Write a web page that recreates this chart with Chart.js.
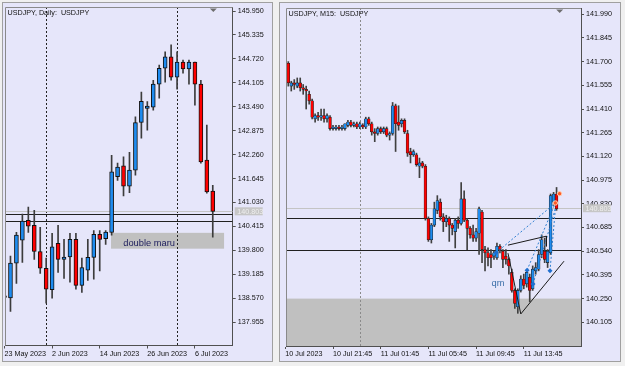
<!DOCTYPE html>
<html>
<head>
<meta charset="utf-8">
<script src="https://cdn.jsdelivr.net/npm/chart.js@4.4.0/dist/chart.umd.min.js"></script>
<style>
  body { margin: 0; background: #f0f0f0; width: 625px; height: 366px; overflow: hidden; position: relative; }
  .win { position: absolute; top: 2px; height: 358px; border: 1px solid #a0a0a0; background: #e6e6fa; }
  #w1 { left: 2px; width: 269px; }
  #w2 { left: 279px; width: 340px; }
  canvas { position: absolute; left: 0; top: 0; }
</style>
</head>
<body>
<div class="win" id="w1"><canvas id="daily" width="269" height="358"></canvas></div>
<div class="win" id="w2"><canvas id="m15" width="340" height="358"></canvas></div>
<script>
// ---- Daily USDJPY (23 May .. 11 Jul 2023) ----
const dOpen  = [138.63,138.58,139.47,140.06,140.57,140.44,139.77,139.34,138.79,139.98,139.57,139.63,140.08,138.90,139.29,139.62,140.21,140.10,140.26,141.69,141.97,141.45,141.86,143.09,143.45,143.48,144.07,144.48,144.77,144.25,144.64,144.46,144.64,144.07,142.12,141.32];
const dHigh  = [138.66,139.65,140.26,140.73,140.91,140.83,140.39,139.60,140.24,140.44,140.08,140.24,140.24,139.60,140.08,140.31,140.31,140.31,142.24,142.04,142.20,142.32,143.23,143.87,143.62,144.17,144.56,144.90,145.08,144.90,144.69,144.69,144.64,144.17,143.02,141.47];
const dLow   = [138.55,138.23,138.95,139.49,140.26,139.57,139.21,138.44,138.57,139.23,139.08,138.98,138.80,138.72,139.03,139.06,139.27,139.95,140.19,141.60,141.20,141.28,141.73,142.68,142.89,143.40,143.71,144.12,144.17,143.94,144.35,144.07,143.53,142.04,141.27,140.14];
const dClose = [138.59,139.47,140.19,140.55,140.42,139.77,139.34,138.80,139.89,139.57,139.63,140.08,138.90,139.36,139.62,140.21,140.08,140.27,141.82,141.94,141.45,141.86,143.08,143.63,143.51,144.07,144.48,144.77,144.25,144.64,144.46,144.64,144.07,142.07,141.30,140.80];
const dTickIdx = [0, 8, 16, 24, 32];
const dTickLabels = ["23 May 2023", "2 Jun 2023", "14 Jun 2023", "26 Jun 2023", "6 Jul 2023"];
const dPriceTicks = [145.950,145.335,144.720,144.105,143.490,142.875,142.260,141.645,141.030,140.415,139.800,139.185,138.570,137.955];
const dSeparators = [7, 29];

// ---- M15 USDJPY (10 Jul evening .. 11 Jul) ----
const mOpen  = [141.70,141.69,141.55,141.57,141.55,141.57,141.54,141.53,141.50,141.46,141.35,141.37,141.36,141.37,141.35,141.36,141.29,141.29,141.30,141.29,141.29,141.31,141.33,141.31,141.32,141.30,141.31,141.30,141.35,141.32,141.27,141.26,141.29,141.27,141.29,141.25,141.26,141.43,141.33,141.32,141.34,141.26,141.15,141.13,141.13,141.06,141.08,141.06,140.74,140.61,140.70,140.79,140.84,140.75,140.72,140.74,140.70,140.66,140.73,140.71,140.86,140.73,140.68,140.64,140.62,140.65,140.78,140.55,140.53,140.52,140.51,140.50,140.57,140.54,140.51,140.49,140.41,140.30,140.20,140.30,140.37,140.34,140.38,140.31,140.42,140.43,140.52,140.54,140.47,140.53,140.84,140.89];
const mHigh  = [141.76,141.70,141.58,141.59,141.60,141.60,141.56,141.55,141.52,141.47,141.38,141.39,141.41,141.41,141.38,141.37,141.31,141.31,141.31,141.31,141.32,141.34,141.34,141.33,141.33,141.33,141.32,141.36,141.36,141.33,141.29,141.30,141.30,141.30,141.30,141.27,141.45,141.44,141.43,141.35,141.35,141.28,141.17,141.16,141.14,141.11,141.09,141.07,140.75,140.71,140.84,140.88,140.86,140.77,140.76,140.75,140.71,140.74,140.75,140.96,140.91,140.74,140.69,140.70,140.68,140.81,140.79,140.57,140.56,140.55,140.54,140.59,140.58,140.55,140.55,140.50,140.43,140.31,140.31,140.39,140.40,140.42,140.40,140.45,140.47,140.55,140.64,140.62,140.55,140.89,140.90,140.93];
const mLow   = [141.69,141.55,141.52,141.53,141.54,141.52,141.50,141.41,141.44,141.35,141.33,141.34,141.34,141.33,141.33,141.28,141.28,141.28,141.28,141.28,141.28,141.30,141.30,141.30,141.29,141.29,141.29,141.29,141.31,141.25,141.21,141.25,141.26,141.26,141.24,141.22,141.25,141.15,141.28,141.30,141.26,141.12,141.08,141.12,141.06,140.99,141.05,140.73,140.60,140.59,140.69,140.77,140.73,140.66,140.69,140.60,140.64,140.56,140.68,140.70,140.72,140.55,140.62,140.60,140.60,140.52,140.47,140.42,140.45,140.44,140.49,140.49,140.53,140.44,140.46,140.40,140.29,140.19,140.16,140.29,140.31,140.32,140.23,140.30,140.40,140.42,140.50,140.47,140.44,140.52,140.82,140.79];
const mClose = [141.75,141.57,141.57,141.56,141.57,141.54,141.53,141.52,141.46,141.36,141.37,141.36,141.37,141.35,141.37,141.29,141.30,141.30,141.29,141.30,141.32,141.33,141.31,141.32,141.30,141.32,141.30,141.35,141.32,141.27,141.26,141.29,141.27,141.29,141.25,141.26,141.43,141.32,141.31,141.34,141.27,141.14,141.13,141.15,141.07,141.08,141.06,140.74,140.61,140.70,140.80,140.85,140.75,140.72,140.74,140.70,140.68,140.73,140.71,140.86,140.73,140.68,140.64,140.62,140.66,140.80,140.55,140.53,140.50,140.50,140.53,140.57,140.55,140.49,140.49,140.45,140.30,140.22,140.30,140.37,140.33,140.41,140.30,140.43,140.44,140.52,140.61,140.49,140.54,140.88,140.89,140.80];
const mTickIdx = [0, 16, 32, 48, 64, 80];
const mTickLabels = ["10 Jul 2023", "10 Jul 21:45", "11 Jul 01:45", "11 Jul 05:45", "11 Jul 09:45", "11 Jul 13:45"];
const mPriceTicks = [141.990,141.845,141.700,141.555,141.410,141.265,141.120,140.975,140.830,140.685,140.540,140.395,140.250,140.105];
const mSeparators = [25];

// levels shared by both charts
const bidPrice = 140.803;
const hLevels = [140.745, 140.550];
const zoneTop = 140.250;
const zoneBottomDaily = 139.843;

// hand-drawn pattern on M15 (bar index, price)
const vLine = [[74.7, 140.528], [79.0, 140.156], [93.5, 140.479]];
const flagLine = [[74.7, 140.577], [87.6, 140.632], [87.6, 140.57]];
const fanFrom = [[70.7, 140.53], [81.1, 140.424], [83.1, 140.34], [88.8, 140.42]];
const fanTo = [[90.6, 140.835], [90.6, 140.835], [90.6, 140.80], [90.6, 140.80]];
const redMarks = [[90.6, 140.835], [92.0, 140.892]];

const FONT = "'Liberation Sans', Arial, sans-serif";

function candleSets(O, H, L, C, o) {
  const body = O.map((v, i) => ({ x: i, y: [v, C[i]] }));
  const wick = O.map((v, i) => ({ x: i, y: [L[i], H[i]] }));
  return [
    { type: "bar", data: body, grouped: false, barThickness: o.bw, borderWidth: o.bb, borderColor: o.edge,
      borderSkipped: false, minBarLength: 1, order: 2,
      backgroundColor: O.map((v, i) => C[i] >= v ? "#1e8cf0" : "#ff0000") },
    { type: "bar", data: wick, grouped: false, barThickness: 1, borderWidth: 0, order: 3,
      backgroundColor: o.wick }
  ];
}

function scalesFor(s) {
  const axisCol = "#505050";
  return {
    x: {
      type: "linear", min: s.xmin, max: s.xmax, offset: false,
      afterBuildTicks: sc => { sc.ticks = s.tickIdx.map(v => ({ value: v })); },
      afterFit: sc => { sc.height = s.xh; sc.paddingLeft = 0; sc.paddingRight = 0; },
      ticks: { autoSkip: false, maxRotation: 0, align: "start", padding: 1, color: "#111",
        font: { family: FONT, size: 7.2 }, callback: (v, i) => s.tickLabels[i] },
      grid: { drawOnChartArea: false, offset: false, tickLength: 3, color: axisCol },
      border: { display: true, color: axisCol }
    },
    y: {
      type: "linear", position: "right", min: s.ymin, max: s.ymax,
      afterBuildTicks: sc => { sc.ticks = s.priceTicks.map(v => ({ value: v })); },
      afterFit: sc => { sc.width = s.yw; sc.paddingTop = 0; sc.paddingBottom = 0; },
      ticks: { autoSkip: false, padding: 2, color: "#111", font: { family: FONT, size: 7.2 },
        callback: v => v.toFixed(3) },
      grid: { drawOnChartArea: false, tickLength: 3, color: axisCol },
      border: { display: true, color: axisCol }
    }
  };
}

function overlay(s) {
  return {
    id: "overlay" + s.name,
    beforeDatasetsDraw(chart) {
      const { ctx, chartArea: a, scales: { x, y } } = chart;
      ctx.save();
      ctx.beginPath(); ctx.rect(a.left, a.top, a.width, a.height); ctx.clip();
      // zone box
      const zx1 = s.zone.x1 == null ? a.left : x.getPixelForValue(s.zone.x1);
      const zx2 = s.zone.x2 == null ? a.right : x.getPixelForValue(s.zone.x2);
      const zy1 = y.getPixelForValue(s.zone.top);
      const zy2 = s.zone.bottom == null ? a.bottom : y.getPixelForValue(s.zone.bottom);
      ctx.fillStyle = "#c0c0c0";
      ctx.fillRect(zx1, zy1, zx2 - zx1, zy2 - zy1);
      if (s.zone.text) {
        ctx.fillStyle = "#1c1c5c";
        ctx.font = "9.3px " + FONT;
        ctx.textBaseline = "middle";
        ctx.fillText(s.zone.text, x.getPixelForValue(s.zone.tx), y.getPixelForValue(s.zone.ty));
      }
      // period separators
      ctx.strokeStyle = s.sepColor; ctx.lineWidth = 1; ctx.setLineDash([2, 2]);
      s.separators.forEach(i => {
        const px = Math.round(x.getPixelForValue(i)) + 0.5;
        ctx.beginPath(); ctx.moveTo(px, a.top); ctx.lineTo(px, a.bottom); ctx.stroke();
      });
      ctx.setLineDash([]);
      // bid line
      ctx.strokeStyle = "#c4c4c4";
      let py = Math.round(y.getPixelForValue(bidPrice)) + 0.5;
      ctx.beginPath(); ctx.moveTo(a.left, py); ctx.lineTo(a.right, py); ctx.stroke();
      // horizontal levels
      ctx.strokeStyle = "#202020";
      hLevels.forEach(p => {
        const ly = Math.round(y.getPixelForValue(p)) + 0.5;
        ctx.beginPath(); ctx.moveTo(a.left, ly); ctx.lineTo(a.right, ly); ctx.stroke();
      });
      ctx.restore();
    },
    afterDraw(chart) {
      const { ctx, chartArea: a, scales: { y } } = chart;
      ctx.save();
      // plot frame top/left
      ctx.strokeStyle = "#8a8a8a"; ctx.lineWidth = 1;
      ctx.beginPath();
      ctx.moveTo(Math.round(a.left) + 0.5, a.bottom); ctx.lineTo(Math.round(a.left) + 0.5, Math.round(a.top) + 0.5);
      ctx.lineTo(a.right, Math.round(a.top) + 0.5); ctx.stroke();
      // title
      ctx.fillStyle = "#111"; ctx.font = "7.2px " + FONT; ctx.textBaseline = "middle";
      ctx.fillText(s.title, a.left + 2.5, a.top + 6);
      // little menu triangle
      const tx = a.right - s.triOff;
      ctx.fillStyle = "#6e6e6e";
      ctx.beginPath(); ctx.moveTo(tx - 3.5, a.top + 1.5); ctx.lineTo(tx + 3.5, a.top + 1.5); ctx.lineTo(tx, a.top + 5); ctx.fill();
      // bid label
      const by = y.getPixelForValue(bidPrice);
      ctx.fillStyle = "#c6c6c6";
      ctx.fillRect(a.right + 2, by - 4, 28, 8);
      ctx.fillStyle = "#efefef"; ctx.font = "7.2px " + FONT; ctx.textBaseline = "middle";
      ctx.fillText(bidPrice.toFixed(3), a.right + 4.5, by + 0.5);
      ctx.restore();
    }
  };
}

const common = {
  responsive: false, animation: false, devicePixelRatio: 1,
  plugins: { legend: { display: false }, tooltip: { enabled: false } }
};

// Daily chart
const dSet = { name: "d", xmin: 0.08, xmax: 38.35, ymin: 137.355, ymax: 146.053, xh: 15.5, yw: 39.3,
  tickIdx: dTickIdx, tickLabels: dTickLabels, priceTicks: dPriceTicks, separators: dSeparators,
  sepColor: "#222", title: "USDJPY, Daily:  USDJPY", triOff: 19.4,
  zone: { x1: 17.9, x2: 36.9, top: zoneTop, bottom: zoneBottomDaily, text: "double maru", tx: 19.95, ty: 139.99 } };

new Chart(document.getElementById("daily"), {
  type: "bar",
  data: { datasets: candleSets(dOpen, dHigh, dLow, dClose, { bw: 4, bb: 1, edge: "#111", wick: "#3c3c3c" }) },
  options: Object.assign({}, common, { layout: { padding: { left: 2, top: 4, right: 0, bottom: 0 } }, scales: scalesFor(dSet) }),
  plugins: [overlay(dSet)]
});

// M15 chart
const mSet = { name: "m", xmin: 0.23, xmax: 99.2, ymin: 139.960, ymax: 142.028, xh: 15, yw: 39,
  tickIdx: mTickIdx, tickLabels: mTickLabels, priceTicks: mPriceTicks, separators: mSeparators,
  sepColor: "#8a8a8a", title: "USDJPY, M15:  USDJPY", triOff: 21.3,
  zone: { x1: null, x2: null, top: zoneTop, bottom: null } };

const pts = arr => arr.map(p => ({ x: p[0], y: p[1] }));
const patternSets = [
  { type: "line", data: pts(vLine), borderColor: "#1a1a1a", borderWidth: 1, pointRadius: 0, order: 1 },
  { type: "line", data: pts(flagLine), borderColor: "#1a1a1a", borderWidth: 1, pointRadius: 0, order: 1 }
];
fanFrom.forEach((f, k) => patternSets.push({
  type: "line", data: pts([f, fanTo[k]]), borderColor: "#2f7fd0", borderWidth: 1, borderDash: [2, 2], pointRadius: 0, order: 1
}));
patternSets.push({ type: "line", data: pts(fanFrom), showLine: false, pointStyle: "rectRot", pointRadius: 2.5,
  pointBackgroundColor: "#1f6fd0", pointBorderWidth: 0, order: 0 });
patternSets.push({ type: "line", data: pts(redMarks), showLine: false, pointStyle: "circle", pointRadius: 2.2,
  pointBackgroundColor: "#ff5a28", pointBorderColor: "#ffd0b0", pointBorderWidth: 1, order: 0 });

new Chart(document.getElementById("m15"), {
  type: "bar",
  data: { datasets: candleSets(mOpen, mHigh, mLow, mClose, { bw: 2.8, bb: 0.6, edge: "#222", wick: "#404040" }).concat(patternSets) },
  options: Object.assign({}, common, { layout: { padding: { left: 6, top: 4, right: 0, bottom: 0 } }, scales: scalesFor(mSet) }),
  plugins: [overlay(mSet), {
    id: "qm",
    afterDatasetsDraw(chart) {
      const { ctx, scales: { x, y } } = chart;
      ctx.save();
      ctx.fillStyle = "#3a6ea8"; ctx.font = "9.3px " + FONT; ctx.textBaseline = "middle";
      ctx.fillText("qm", x.getPixelForValue(69.2), y.getPixelForValue(140.34));
      ctx.restore();
    }
  }]
});
</script>
</body>
</html>
